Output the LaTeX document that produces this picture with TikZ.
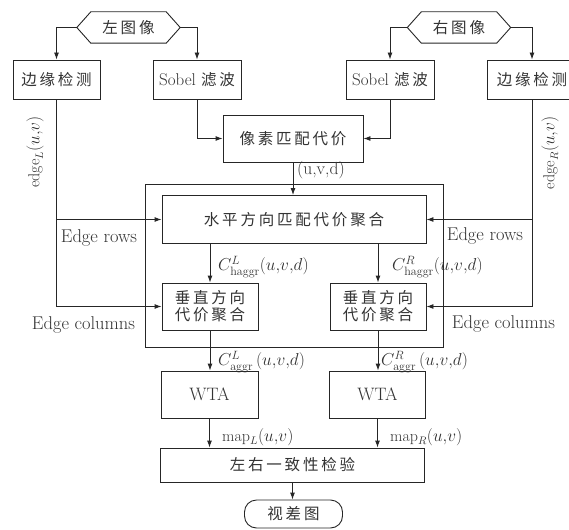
\documentclass[tikz,border=0pt]{standalone}
\usepackage{amsmath}
\usepackage{fontspec}
\newfontfamily\cjk[LetterSpace=18]{Noto Sans CJK SC}
\usetikzlibrary{arrows.meta}
\begin{document}
\begin{tikzpicture}[x=1pt,y=-1pt,
  box/.style={draw=black!85, line width=0.9pt, inner sep=0pt, align=center, text=black!80},
  plain/.style={inner sep=0pt, align=center, text=black!80},
  arr/.style={draw=black!85, -{Latex[length=7pt,width=5pt]}, line width=0.9pt},
  ln/.style={draw=black!85, line width=0.9pt},
  cn/.style={font=\fontsize{15.5}{17}\selectfont\cjk},
  lab/.style={inner sep=0pt, text=black!80, font=\fontsize{16}{18}\selectfont},
  mlab/.style={inner sep=0pt, text=black!80, font=\fontsize{17.3}{19}\selectfont},
  txt/.style={inner sep=0pt, text=black!80, font=\fontsize{18.5}{20}\selectfont},
]
\useasboundingbox (0,0) rectangle (569,529);

% top hexagons
\node[plain, cn, minimum width=103, minimum height=31] (hexL) at (128.5,27.5) {左图像};
\node[plain, cn, minimum width=103, minimum height=31] (hexR) at (459,27.5) {右图像};
\foreach \h in {hexL,hexR}{
  \draw[ln] (\h.west) -- ([xshift=14pt]\h.north west) -- ([xshift=-14pt]\h.north east)
    -- (\h.east) -- ([xshift=-14pt]\h.south east) -- ([xshift=14pt]\h.south west) -- cycle;
}

% first row
\node[box, cn, minimum width=87, minimum height=39] (edgeL) at (56.5,79.5) {边缘检测};
\node[box, minimum width=88, minimum height=39, font=\fontsize{17}{18}\selectfont] (sobelL) at (197,79.5) {Sobel {\cjk\fontsize{15.5}{17}\selectfont 滤波}};
\node[box, minimum width=88, minimum height=39, font=\fontsize{17}{18}\selectfont] (sobelR) at (390,79.5) {Sobel {\cjk\fontsize{15.5}{17}\selectfont 滤波}};
\node[box, cn, minimum width=89, minimum height=39] (edgeR) at (532,79.5) {边缘检测};

\node[box, cn, minimum width=140, minimum height=47] (pix) at (293,138.5) {像素匹配代价};

% outer frame
\node[box, minimum width=298, minimum height=163] (outer) at (294,265.5) {};

\node[box, cn, minimum width=264, minimum height=48] (hagg) at (294,219.5) {水平方向匹配代价聚合};
\node[box, cn, minimum width=96, minimum height=47] (vL) at (210,306.5) {垂直方向\\代价聚合};
\node[box, cn, minimum width=96, minimum height=47] (vR) at (378,306.5) {垂直方向\\代价聚合};

\node[box, minimum width=97, minimum height=47, font=\fontsize{18}{20}\selectfont] (wtaL) at (209.5,394.5) {WTA};
\node[box, minimum width=96, minimum height=47, font=\fontsize{18}{20}\selectfont] (wtaR) at (377.5,394.5) {WTA};

\node[box, cn, minimum width=264, minimum height=34] (lr) at (292.5,465) {左右一致性检验};
\node[box, cn, minimum width=98, minimum height=28, rounded corners=12pt] (disp) at (293.5,514) {视差图};

% connectors
\draw[arr] (hexL.west) -| (edgeL.north);
\draw[arr] (hexL.east) -| (sobelL.north);
\draw[arr] (hexR.west) -| (sobelR.north);
\draw[arr] (hexR.east) -| (edgeR.north);
\draw[arr] (sobelL.south) |- (pix.west);
\draw[arr] (sobelR.south) |- (pix.east);
\draw[arr] (pix.south) -- (pix.south |- hagg.north);
\draw[arr] (edgeL.south) |- (vL.west);
\draw[arr] (edgeL.south |- hagg.west) -- (hagg.west);
\draw[arr] (edgeR.south) |- (vR.east);
\draw[arr] (edgeR.south |- hagg.east) -- (hagg.east);
\draw[arr] (vL.north |- hagg.south) -- (vL.north);
\draw[arr] (vR.north |- hagg.south) -- (vR.north);
\draw[arr] (vL.south) -- (vL.south |- wtaL.north);
\draw[arr] (vR.south) -- (vR.south |- wtaR.north);
\draw[arr] (wtaL.south) -- (wtaL.south |- lr.north);
\draw[arr] (wtaR.south) -- (wtaR.south |- lr.north);
\draw[arr] (lr.south) -- (lr.south |- disp.north);

% labels
\node[txt, anchor=west, font=\fontsize{17.5}{20}\selectfont] (luvd) at (297,170) {(u,v,d)};
\node[lab, rotate=90] (edL) at (35,152) {$\mathrm{edge}_L(u{,}v)$};
\node[lab, rotate=90] (edR) at (550,153) {$\mathrm{edge}_R(u{,}v)$};
\node[txt] (rowsL) at (99,238) {Edge rows};
\node[txt] (colsL) at (83.5,325) {Edge columns};
\node[txt] (rowsR) at (485,236) {Edge rows};
\node[txt] (colsR) at (503.5,324) {Edge columns};
\node[mlab, anchor=west] (chL) at (218,267) {$C^{L}_{\mathrm{haggr}}(u{,}v{,}d)$};
\node[mlab, anchor=west] (chR) at (392,267) {$C^{R}_{\mathrm{haggr}}(u{,}v{,}d)$};
\node[mlab, anchor=west] (caL) at (218,362) {$C^{L}_{\mathrm{aggr}}\,(u{,}v{,}d)$};
\node[mlab, anchor=west] (caR) at (381,362) {$C^{R}_{\mathrm{aggr}}\,(u{,}v{,}d)$};
\node[lab, anchor=west] (mL) at (222,437) {$\mathrm{map}_L(u{,}v)$};
\node[lab, anchor=west] (mR) at (390,437) {$\mathrm{map}_R(u{,}v)$};
\end{tikzpicture}
\end{document}
